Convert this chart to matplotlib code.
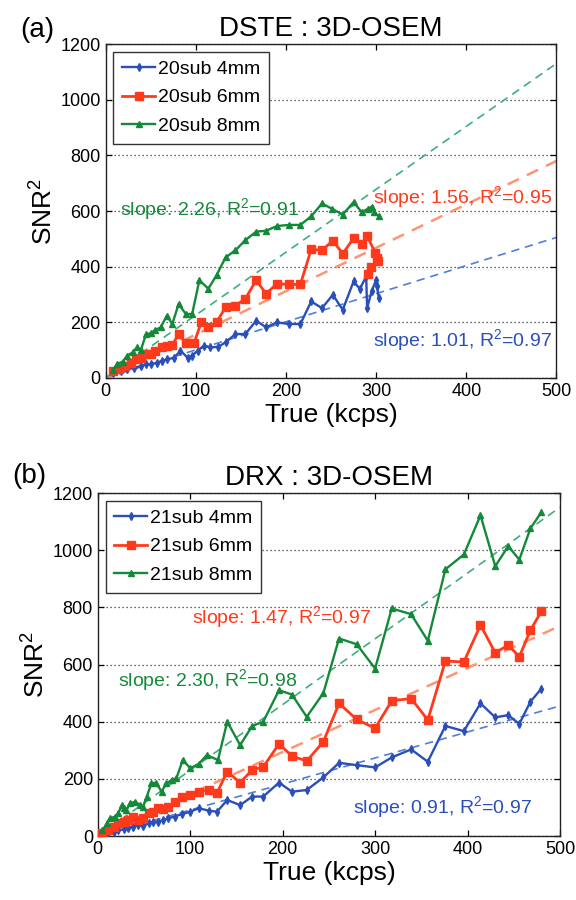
import numpy as np
import matplotlib
matplotlib.use("Agg")
import matplotlib.pyplot as plt

plt.rcParams['font.family'] = ['Liberation Sans', 'DejaVu Sans']

# ---- panel (a): DSTE : 3D-OSEM ----
a_x_4mm = [8, 17, 24, 32, 39, 45, 50, 57, 63, 68, 76, 83, 91, 96, 102, 109, 116, 125, 133, 144,
           155, 167, 178, 190, 203, 216, 228, 240, 252, 263, 275, 282, 289, 290, 295, 300, 301, 303]
a_y_4mm = [19, 25, 31, 37, 43, 49, 49, 55, 61, 67, 73, 98, 73, 80, 98, 116, 110, 112, 128, 158,
           158, 206, 182, 200, 194, 194, 275, 251, 299, 245, 347, 320, 365, 251, 311, 353, 330, 287]
a_x_6mm = [8, 15, 21, 28, 34, 39, 45, 50, 55, 63, 68, 74, 81, 89, 98, 106, 114, 123, 133, 144,
           155, 167, 178, 190, 203, 216, 228, 240, 252, 263, 275, 284, 290, 299, 301, 302, 294, 291]
a_y_6mm = [25, 31, 43, 55, 67, 73, 86, 88, 98, 110, 116, 119, 158, 124, 124, 200, 182, 200, 254, 260,
           285, 351, 303, 339, 336, 336, 462, 459, 493, 447, 502, 481, 510, 450, 430, 420, 398, 375]
a_x_8mm = [8, 13, 19, 24, 30, 35, 39, 45, 50, 55, 61, 68, 74, 81, 89, 96, 104, 114, 123, 133,
           144, 155, 167, 178, 190, 203, 216, 228, 240, 251, 263, 275, 284, 291, 295, 298, 303]
a_y_8mm = [30, 50, 59, 80, 92, 110, 100, 158, 160, 172, 182, 224, 194, 266, 230, 230, 351, 321, 369, 433,
           459, 495, 526, 529, 546, 550, 550, 581, 627, 608, 587, 632, 596, 608, 615, 595, 581]
a_labels = ['20sub 4mm', '20sub 6mm', '20sub 8mm']
a_slopes = [1.01, 1.56, 2.26]
a_r2 = [0.97, 0.95, 0.91]

# ---- panel (b): DRX : 3D-OSEM ----
b_x = [5, 11, 17, 22, 28, 33, 38, 44, 49, 55, 60, 65, 71, 76, 83, 91, 100, 109, 120, 129,
       140, 154, 167, 179, 196, 210, 226, 244, 261, 280, 300, 318, 339, 357, 376, 396, 414, 430,
       444, 456, 468, 480]
b_y_4mm = [5, 9, 15, 21, 23, 29, 33, 38, 35, 44, 50, 50, 56, 62, 68, 77, 85, 97, 89, 85,
           126, 108, 138, 138, 187, 155, 161, 205, 256, 248, 240, 275, 303, 260, 385, 367, 464, 415,
           423, 392, 470, 516]
b_y_6mm = [10, 21, 33, 44, 50, 56, 68, 56, 62, 79, 85, 97, 93, 100, 120, 138, 143, 155, 161, 151,
           225, 187, 231, 242, 322, 280, 262, 330, 464, 408, 377, 473, 481, 406, 612, 609, 738, 641,
           668, 627, 720, 787]
b_x_8mm = [5, 10, 13, 19, 22, 26, 28, 31, 35, 40, 46, 49, 53, 58, 63, 69, 74, 80, 85, 92,
           100, 109, 118, 130, 140, 154, 167, 179, 196, 210, 226, 244, 261, 280, 300, 318, 339, 357,
           376, 396, 414, 430, 444, 456, 468, 480]
b_y_8mm = [20, 44, 62, 68, 79, 108, 97, 91, 114, 120, 108, 103, 138, 184, 187, 155, 184, 196, 202, 266,
           237, 252, 283, 266, 400, 318, 385, 400, 510, 495, 417, 500, 691, 671, 586, 796, 776, 683,
           933, 985, 1122, 944, 1014, 967, 1076, 1134]
b_labels = ['21sub 4mm', '21sub 6mm', '21sub 8mm']
b_slopes = [0.91, 1.47, 2.30]
b_r2 = [0.97, 0.97, 0.98]

colors = ['#2a4fb8', '#ff3a1c', '#15893a']
fit_colors = ['#4f7fd8', '#ff9472', '#3fae7c']
markers = ['d', 's', '^']
msizes = [4, 6, 4.5]
lwidths = [1.7, 2.0, 1.7]
fit_lw = [1.2, 1.8, 1.2]


def draw_panel(ax, xs, ys, labels, slopes, r2s, text_pos, title):
    xf = np.array([0, 500])
    for i in range(3):
        ax.plot(xf, slopes[i] * xf, '--', color=fit_colors[i], lw=fit_lw[i],
                dashes=(5, 3.5), zorder=2)
    handles = []
    for i in range(3):
        h, = ax.plot(xs[i], ys[i], '-', marker=markers[i], color=colors[i], lw=lwidths[i],
                     ms=msizes[i], mec=colors[i], mfc=colors[i], label=labels[i], zorder=3)
        handles.append(h)
    for i in range(3):
        tx, ty, ha = text_pos[i]
        ax.text(tx, ty, f"slope: {slopes[i]:.2f}, R$^2$=%.2f" % r2s[i], color=colors[i],
                fontsize=14, ha=ha, va='center', zorder=4)
    ax.set_xlim(0, 500)
    ax.set_ylim(0, 1200)
    ax.set_xticks(range(0, 501, 100))
    ax.set_yticks(range(0, 1201, 200))
    ax.yaxis.grid(True, linestyle=(0, (1, 2.2)), color='#333333', lw=0.9)
    ax.set_axisbelow(True)
    ax.tick_params(direction='in', top=True, right=True, labelsize=13, length=4, width=0.9)
    for s in ax.spines.values():
        s.set_linewidth(1.0)
        s.set_color('#222222')
    ax.set_xlabel('True (kcps)', fontsize=19, labelpad=2)
    ax.set_ylabel('SNR$^2$', fontsize=19, labelpad=2)
    ax.set_title(title, fontsize=20, pad=6)
    leg = ax.legend(handles=handles, loc='upper left', fontsize=14, frameon=True, fancybox=False,
                    edgecolor='#333333', framealpha=1, handlelength=1.7, handletextpad=0.15,
                    labelspacing=0.55, borderpad=0.45, borderaxespad=0.4)
    leg.get_frame().set_linewidth(1.0)


plt.rcParams['mathtext.fontset'] = 'custom'
plt.rcParams['mathtext.rm'] = 'Liberation Sans'
plt.rcParams['mathtext.it'] = 'Liberation Sans'

fig = plt.figure(figsize=(5.76, 9), dpi=100)
ax1 = fig.add_axes([0.1833, 0.58, 0.7828, 0.3711])
ax2 = fig.add_axes([0.1698, 0.0711, 0.8024, 0.3811])

draw_panel(ax1, [a_x_4mm, a_x_6mm, a_x_8mm], [a_y_4mm, a_y_6mm, a_y_8mm], a_labels, a_slopes, a_r2,
           [(495, 138, 'right'), (495, 650, 'right'), (16, 608, 'left')], 'DSTE : 3D-OSEM')
draw_panel(ax2, [b_x, b_x, b_x_8mm], [b_y_4mm, b_y_6mm, b_y_8mm], b_labels, b_slopes, b_r2,
           [(470, 102, 'right'), (102, 765, 'left'), (22, 545, 'left')], 'DRX : 3D-OSEM')

fig.text(20 / 576, 1 - 30 / 900, '(a)', fontsize=20, va='center', ha='left')
fig.text(12 / 576, 1 - 476 / 900, '(b)', fontsize=20, va='center', ha='left')

fig.savefig('out.png', dpi=100)
